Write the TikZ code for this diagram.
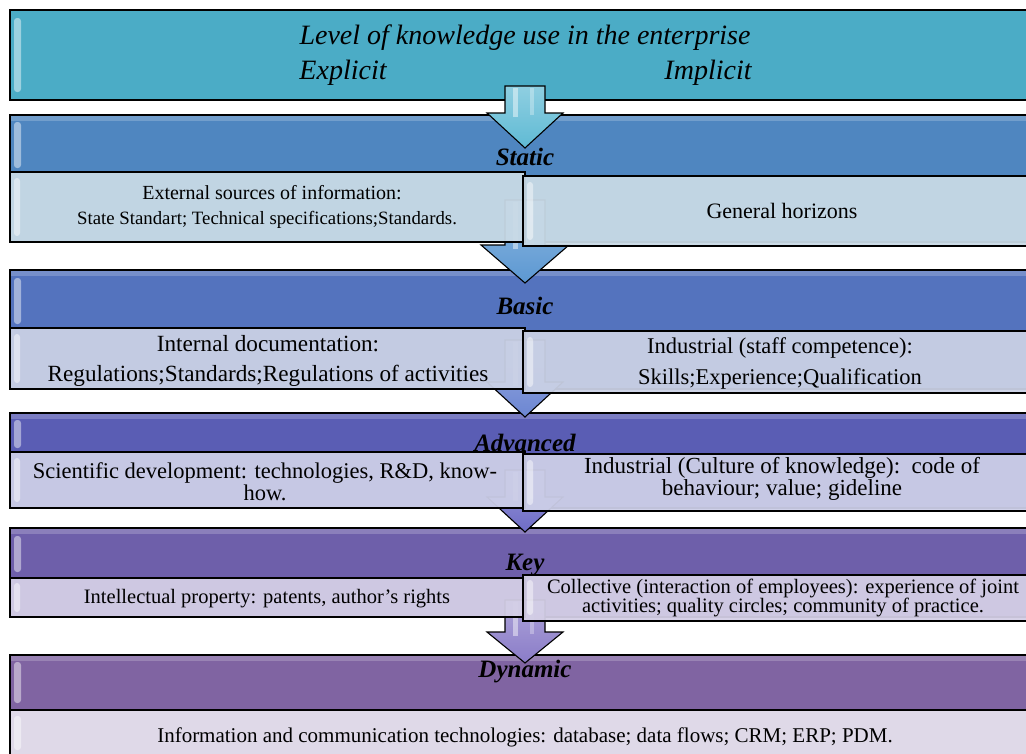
\documentclass[tikz,border=0pt]{standalone}
\usepackage{fontspec}
\setmainfont{Liberation Serif}
\definecolor{cTop}{HTML}{4BACC6}
\definecolor{cStat}{HTML}{4F86C0}
\definecolor{cBas}{HTML}{5473BE}
\definecolor{cAdv}{HTML}{5A5DB4}
\definecolor{cKey}{HTML}{6E5FAA}
\definecolor{cDyn}{HTML}{8064A2}
\definecolor{sStat}{HTML}{C9DAE6}
\definecolor{sBas}{HTML}{CAD1E5}
\definecolor{sAdv}{HTML}{CDCFE8}
\definecolor{sKey}{HTML}{D4CFE6}
\definecolor{sDyn}{HTML}{DDD7E7}
\definecolor{aOne}{HTML}{5FBAD4}
\definecolor{aTwo}{HTML}{5C98D2}
\definecolor{aThree}{HTML}{6C86D2}
\definecolor{aFour}{HTML}{6E6CC6}
\definecolor{aFive}{HTML}{8A7CC8}
\tikzset{
  bandbox/.style={draw=black, line width=1.3pt},
  subbox/.style={draw=black, line width=1.3pt, fill opacity=0.94},
  gloss/.style={fill=white, opacity=0.45, rounded corners=3pt},
  arrowbox/.style={draw=black, line width=1.1pt, line join=miter},
  titletext/.style={font=\fontsize{28}{32}\selectfont\itshape, inner sep=0pt},
  hdrtext/.style={font=\fontsize{25}{28}\selectfont\bfseries\itshape, inner sep=0pt},
  bodytext/.style={align=center, inner sep=0pt},
}
% #1 name, #2 shaft top, #3 head top, #4 tip, #5 colour, #6 half head width
\newcommand\blockarrow[6]{%
  \coordinate (#1-s) at (525,#2);
  \coordinate (#1-t) at (525,#4);
  \draw[arrowbox, top color=#5!70!white, bottom color=#5] (505,#2) -- (545,#2) -- (545,#3) -- ({525+#6},#3) -- (#1-t) -- ({525-#6},#3) -- (505,#3) -- cycle;
  \fill[white, opacity=0.45] (513,{#2+2}) rectangle (518,{#3+4});
  \fill[white, opacity=0.3] (530,{#2+2}) rectangle (534,{#3+2});
}
\begin{document}
\begin{tikzpicture}[x=1pt,y=-1pt]
\path[use as bounding box] (0,0) rectangle (1026,753);
\clip (0,0) rectangle (1026,753);
\fill[white] (0,0) rectangle (1026,753);

% bands
\draw[bandbox, fill=cTop] (10,10) rectangle (1040,100);
\fill[gloss] (14,18) rectangle (21,92);
\draw[bandbox, fill=cStat] (10,115) rectangle (1040,242);
\fill[white, opacity=0.2] (11,116) rectangle (1040,121);
\fill[gloss] (14,122) rectangle (21,168);
\draw[bandbox, fill=cBas] (10,270) rectangle (1040,389);
\fill[white, opacity=0.2] (11,271) rectangle (1040,276);
\fill[gloss] (14,278) rectangle (21,324);
\draw[bandbox, fill=cAdv] (10,413) rectangle (1040,508);
\fill[white, opacity=0.2] (11,414) rectangle (1040,419);
\fill[gloss] (14,420) rectangle (21,448);
\draw[bandbox, fill=cKey] (10,528) rectangle (1040,617);
\fill[white, opacity=0.2] (11,529) rectangle (1040,534);
\fill[gloss] (14,536) rectangle (21,572);
\draw[bandbox, fill=cDyn] (10,655) rectangle (1040,710);
\fill[white, opacity=0.2] (11,656) rectangle (1040,661);
\fill[gloss] (14,662) rectangle (21,703);

% arrows
\blockarrow{a1}{86}{113}{148}{aOne}{38}
\blockarrow{a2}{200}{245}{283}{aTwo}{44}
\blockarrow{a3}{340}{382}{417}{aThree}{38}
\blockarrow{a4}{470}{497}{532}{aFour}{38}
\blockarrow{a5}{600}{632}{663}{aFive}{38}

% sub boxes
\draw[subbox, fill=sStat] (10,172) rectangle (525,242);
\fill[gloss] (14,178) rectangle (20,236);
\draw[subbox, fill=sStat] (523,176) rectangle (1040,246);
\fill[gloss] (527,182) rectangle (533,240);
\draw[subbox, fill=sBas] (10,328) rectangle (525,389);
\fill[gloss] (14,334) rectangle (20,383);
\draw[subbox, fill=sBas] (523,331) rectangle (1040,393);
\fill[gloss] (527,337) rectangle (533,387);
\draw[subbox, fill=sAdv] (10,452) rectangle (525,508);
\fill[gloss] (14,458) rectangle (20,502);
\draw[subbox, fill=sAdv] (523,454) rectangle (1040,511);
\fill[gloss] (527,460) rectangle (533,505);
\draw[subbox, fill=sKey] (10,578) rectangle (525,617);
\fill[gloss] (14,583) rectangle (20,612);
\draw[subbox, fill=sKey] (523,575) rectangle (1040,621);
\fill[gloss] (527,580) rectangle (533,615);
\draw[subbox, fill=sDyn] (10,710) rectangle (1040,770);
\fill[gloss] (14,716) rectangle (21,750);

% texts
\node[titletext] (title) at (525,38) {Level of knowledge use in the enterprise};
\node[titletext] (expl) at (343,73) {Explicit};
\node[titletext] (impl) at (708,73) {Implicit};

\node[hdrtext] (hstat) at (525,157) {Static};
\node[bodytext, font=\fontsize{20}{22}\selectfont] (stl1) at (272,193) {External sources of information:};
\node[bodytext, font=\fontsize{18.8}{20}\selectfont] (stl2) at (267,220) {State Standart; Technical specifications;Standards.};
\node[bodytext, font=\fontsize{22}{24}\selectfont] (str) at (782,211) {General horizons};

\node[hdrtext] (hbas) at (525,306) {Basic};
\node[bodytext, font=\fontsize{23.2}{30}\selectfont] (bal) at (268,361) {Internal documentation:\\ Regulations;Standards;Regulations of activities};
\node[bodytext, font=\fontsize{22.5}{31}\selectfont] (bar) at (780,363) {Industrial (staff competence):\\ Skills;Experience;Qualification};

\node[hdrtext] (hadv) at (525,443) {Advanced};
\node[bodytext, font=\fontsize{22.5}{22}\selectfont] (adl) at (265,482) {Scientific development: technologies, R\&D, know-\\how.};
\node[bodytext, font=\fontsize{23}{22}\selectfont] (adr) at (782,479) {Industrial (Culture of knowledge):\ \ code of\\ behaviour; value; gideline};

\node[hdrtext] (hkey) at (525,565) {Key};
\node[bodytext, font=\fontsize{20.5}{20}\selectfont] (kl) at (267,599) {Intellectual property: patents, author's rights};
\node[bodytext, font=\fontsize{20.5}{19}\selectfont] (kr) at (783,598) {Collective (interaction of employees): experience of joint\\ activities; quality circles; community of practice.};

\node[hdrtext] (hdyn) at (525,672) {Dynamic};
\node[bodytext, font=\fontsize{21}{24}\selectfont] (dyn) at (525,737) {Information and communication technologies: database; data flows; CRM; ERP; PDM.};
\end{tikzpicture}
\end{document}
